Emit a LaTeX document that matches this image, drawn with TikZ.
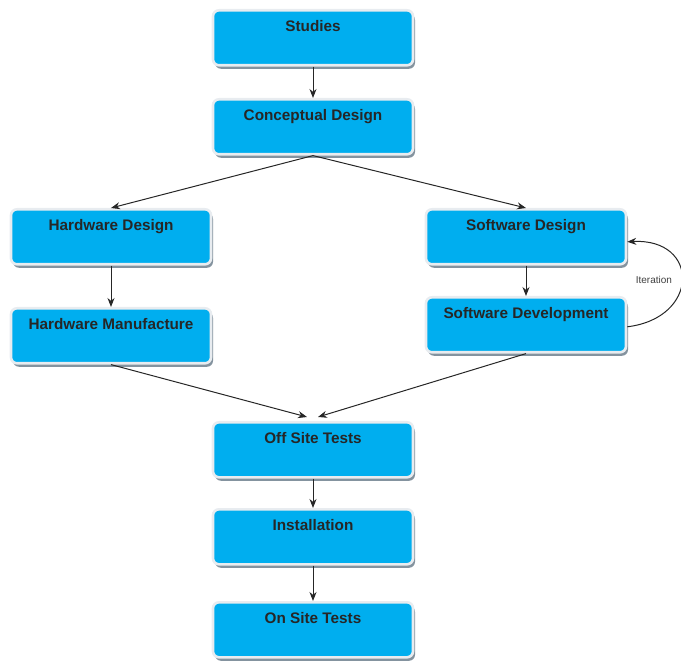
\documentclass[tikz,border=0pt]{standalone}
\usepackage{fontspec}
\setmainfont{Liberation Sans}
\usetikzlibrary{arrows.meta,shadows}
\definecolor{boxfill}{RGB}{0,174,239}
\definecolor{boxedge}{RGB}{232,236,240}
\definecolor{shadowc}{RGB}{110,128,142}
\tikzset{
  stepbox/.style={draw=boxedge, line width=2.6pt, fill=boxfill, rounded corners=6pt,
    minimum width=200pt, inner sep=0pt, text height=21pt, text depth=34pt, align=center,
    font=\fontsize{15.3}{17}\selectfont\bfseries, text=black!85,
    drop shadow={shadow xshift=2pt, shadow yshift=-3.5pt, fill=shadowc, opacity=0.85}},
  arr/.style={-{Stealth[length=9pt,width=7pt]}, line width=1pt, black!85},
}
\begin{document}
\begin{tikzpicture}[x=1pt,y=-1pt]
\useasboundingbox (0,0) rectangle (681,663);
\node[stepbox, anchor=north] (studies) at (313,9) {Studies};
\node[stepbox, anchor=north] (concept) at (313,98) {Conceptual Design};
\node[stepbox, anchor=north] (hwd) at (111,208) {Hardware Design};
\node[stepbox, anchor=north] (hwm) at (111,307) {Hardware Manufacture};
\node[stepbox, anchor=north] (swd) at (526,208) {Software Design};
\node[stepbox, anchor=north] (swdev) at (526,296) {Software Development};
\node[stepbox, anchor=north] (off) at (313,421) {Off Site Tests};
\node[stepbox, anchor=north] (inst) at (313,508) {Installation};
\node[stepbox, anchor=north] (on) at (313,601) {On Site Tests};
\coordinate (merge) at (313,417);
\draw[arr] (studies.south) -- (concept.north);
\draw[arr] (concept.south) -- (hwd.north);
\draw[arr] (concept.south) -- (swd.north);
\draw[arr] (hwd.south) -- (hwm.north);
\draw[arr] (swd.south) -- (swdev.north);
\draw[arr] (hwm.south) -- ([xshift=-6pt]merge);
\draw[arr] (swdev.south) -- ([xshift=5pt]merge);
\draw[arr] (off.south) -- (inst.north);
\draw[arr] (inst.south) -- (on.north);
\draw[arr] ([yshift=-2pt]swdev.east) .. controls (700,318) and (700,238) .. ([yshift=-5pt]swd.east)
  node[pos=0.5, left=6pt, font=\fontsize{10}{11}\selectfont, text=black!75] (iter) {Iteration};
\end{tikzpicture}
\end{document}
